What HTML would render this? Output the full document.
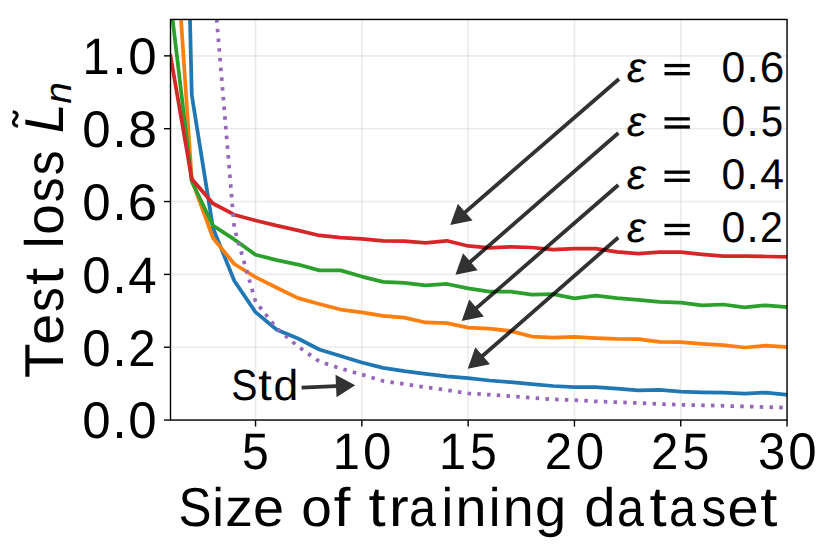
<!DOCTYPE html>
<html><head><meta charset="utf-8"><title>Test loss vs size of training dataset</title>
<style>html,body{margin:0;padding:0;background:#fff;}svg{display:block;}</style>
</head><body><svg width="831" height="550" viewBox="0 0 831 550"><defs><clipPath id="ax"><rect x="170.50" y="19.45" width="616.55" height="400.60"/></clipPath></defs><rect width="831" height="550" fill="#fff"/><g clip-path="url(#ax)" stroke="#b0b0b0" stroke-opacity="0.25" stroke-width="1.6"><line x1="255.54" y1="19.45" x2="255.54" y2="420.05"/><line x1="361.84" y1="19.45" x2="361.84" y2="420.05"/><line x1="468.14" y1="19.45" x2="468.14" y2="420.05"/><line x1="574.45" y1="19.45" x2="574.45" y2="420.05"/><line x1="680.75" y1="19.45" x2="680.75" y2="420.05"/><line x1="787.05" y1="19.45" x2="787.05" y2="420.05"/><line x1="170.50" y1="420.05" x2="787.05" y2="420.05"/><line x1="170.50" y1="347.21" x2="787.05" y2="347.21"/><line x1="170.50" y1="274.38" x2="787.05" y2="274.38"/><line x1="170.50" y1="201.54" x2="787.05" y2="201.54"/><line x1="170.50" y1="128.70" x2="787.05" y2="128.70"/><line x1="170.50" y1="55.87" x2="787.05" y2="55.87"/></g><g clip-path="url(#ax)" fill="none" stroke-width="3.75" stroke-linejoin="round" stroke-linecap="square"><polyline points="170.50,-810.88 191.76,94.98 213.02,228.13 234.28,280.75 255.54,312.18 276.80,329.77 298.06,338.51 319.32,349.51 340.58,355.99 361.84,362.51 383.10,367.90 404.36,371.21 425.62,373.91 446.88,376.31 468.14,378.21 489.41,380.50 510.67,382.21 531.93,384.21 553.19,386.00 574.45,387.20 595.71,387.20 616.97,388.58 638.23,390.30 659.49,389.90 680.75,391.61 702.01,392.30 723.27,392.59 744.53,393.68 765.79,392.59 787.05,394.81" stroke="#1f77b4"/><polyline points="170.50,-137.15 191.76,179.69 213.02,238.00 234.28,264.00 255.54,277.07 276.80,287.78 298.06,298.09 319.32,303.95 340.58,309.52 361.84,312.36 383.10,315.89 404.36,317.61 425.62,322.49 446.88,323.10 468.14,327.58 489.41,328.71 510.67,331.08 531.93,336.51 553.19,337.60 574.45,336.83 595.71,338.07 616.97,338.91 638.23,339.20 659.49,341.79 680.75,342.15 702.01,343.83 723.27,345.10 744.53,347.50 765.79,345.68 787.05,347.10" stroke="#ff7f0e"/><polyline points="170.50,1.61 191.76,181.51 213.02,225.58 234.28,239.42 255.54,254.78 276.80,260.17 298.06,264.54 319.32,270.37 340.58,270.37 361.84,276.56 383.10,281.81 404.36,282.79 425.62,285.48 446.88,283.99 468.14,288.43 489.41,291.60 510.67,291.60 531.93,294.52 553.19,294.12 574.45,298.45 595.71,295.68 616.97,298.09 638.23,299.80 659.49,301.98 680.75,302.56 702.01,305.30 723.27,304.50 744.53,307.41 765.79,305.30 787.05,307.12" stroke="#2ca02c"/><polyline points="170.50,55.87 191.76,178.96 213.02,203.51 234.28,214.69 255.54,220.48 276.80,225.69 298.06,230.38 319.32,235.48 340.58,237.59 361.84,238.87 383.10,240.80 404.36,241.09 425.62,242.80 446.88,240.80 468.14,245.97 489.41,247.79 510.67,246.81 531.93,247.50 553.19,249.69 574.45,248.59 595.71,248.59 616.97,251.80 638.23,253.62 659.49,252.09 680.75,252.24 702.01,254.38 723.27,256.20 744.53,256.20 765.79,256.50 787.05,256.90" stroke="#d62728"/><polyline points="213.02,-24.25 234.28,228.02 255.54,301.51 276.80,328.49 298.06,346.52 319.32,361.49 340.58,368.48 361.84,374.56 383.10,380.97 404.36,384.07 425.62,387.27 446.88,390.08 468.14,393.39 489.41,394.67 510.67,396.16 531.93,397.87 553.19,399.36 574.45,400.13 595.71,401.37 616.97,402.17 638.23,402.97 659.49,404.06 680.75,404.79 702.01,405.26 723.27,405.77 744.53,406.47 765.79,407.09 787.05,407.67" stroke="#9467bd" stroke-dasharray="3.50 6.25" stroke-dashoffset="5.27" stroke-linecap="butt"/></g><rect x="170.50" y="19.45" width="616.55" height="400.60" fill="none" stroke="#000" stroke-width="1.4" stroke-linejoin="miter"/><g stroke="#000" stroke-width="1.4"><line x1="255.54" y1="420.05" x2="255.54" y2="426.55"/><line x1="361.84" y1="420.05" x2="361.84" y2="426.55"/><line x1="468.14" y1="420.05" x2="468.14" y2="426.55"/><line x1="574.45" y1="420.05" x2="574.45" y2="426.55"/><line x1="680.75" y1="420.05" x2="680.75" y2="426.55"/><line x1="787.05" y1="420.05" x2="787.05" y2="426.55"/><line x1="170.50" y1="420.05" x2="164.00" y2="420.05"/><line x1="170.50" y1="347.21" x2="164.00" y2="347.21"/><line x1="170.50" y1="274.38" x2="164.00" y2="274.38"/><line x1="170.50" y1="201.54" x2="164.00" y2="201.54"/><line x1="170.50" y1="128.70" x2="164.00" y2="128.70"/><line x1="170.50" y1="55.87" x2="164.00" y2="55.87"/></g><g font-family="Liberation Sans" fill="#000" text-rendering="geometricPrecision"><text y="438.40"><tspan x="82.20" font-size="51.45" textLength="28.38" lengthAdjust="spacingAndGlyphs">0</tspan><tspan x="112.19" font-size="56.14" textLength="14.55" lengthAdjust="spacingAndGlyphs">.</tspan><tspan x="128.37" font-size="51.45" textLength="28.38" lengthAdjust="spacingAndGlyphs">0</tspan></text><text y="365.56"><tspan x="82.20" font-size="51.45" textLength="28.38" lengthAdjust="spacingAndGlyphs">0</tspan><tspan x="112.19" font-size="56.14" textLength="14.55" lengthAdjust="spacingAndGlyphs">.</tspan><tspan x="128.25" font-size="51.45" textLength="27.35" lengthAdjust="spacingAndGlyphs">2</tspan></text><text y="292.73"><tspan x="82.20" font-size="51.45" textLength="28.38" lengthAdjust="spacingAndGlyphs">0</tspan><tspan x="112.19" font-size="56.14" textLength="14.55" lengthAdjust="spacingAndGlyphs">.</tspan><tspan x="128.37" font-size="51.29" textLength="28.38" lengthAdjust="spacingAndGlyphs">4</tspan></text><text y="219.89"><tspan x="82.20" font-size="51.45" textLength="28.38" lengthAdjust="spacingAndGlyphs">0</tspan><tspan x="112.19" font-size="56.14" textLength="14.55" lengthAdjust="spacingAndGlyphs">.</tspan><tspan x="127.87" font-size="51.45" textLength="29.37" lengthAdjust="spacingAndGlyphs">6</tspan></text><text y="147.05"><tspan x="82.20" font-size="51.45" textLength="28.38" lengthAdjust="spacingAndGlyphs">0</tspan><tspan x="112.19" font-size="56.14" textLength="14.55" lengthAdjust="spacingAndGlyphs">.</tspan><tspan x="128.22" font-size="51.45" textLength="28.68" lengthAdjust="spacingAndGlyphs">8</tspan></text><text y="74.22"><tspan x="82.60" font-size="51.29" textLength="27.10" lengthAdjust="spacingAndGlyphs">1</tspan><tspan x="112.19" font-size="56.14" textLength="14.55" lengthAdjust="spacingAndGlyphs">.</tspan><tspan x="128.37" font-size="51.45" textLength="28.38" lengthAdjust="spacingAndGlyphs">0</tspan></text><text y="469.40"><tspan x="241.95" font-size="51.29" textLength="26.78" lengthAdjust="spacingAndGlyphs">5</tspan></text><text y="469.40"><tspan x="332.66" font-size="51.29" textLength="27.10" lengthAdjust="spacingAndGlyphs">1</tspan><tspan x="363.04" font-size="51.45" textLength="28.38" lengthAdjust="spacingAndGlyphs">0</tspan></text><text y="469.40"><tspan x="438.96" font-size="51.29" textLength="27.10" lengthAdjust="spacingAndGlyphs">1</tspan><tspan x="469.95" font-size="51.29" textLength="26.78" lengthAdjust="spacingAndGlyphs">5</tspan></text><text y="469.40"><tspan x="544.72" font-size="51.45" textLength="27.35" lengthAdjust="spacingAndGlyphs">2</tspan><tspan x="575.64" font-size="51.45" textLength="28.38" lengthAdjust="spacingAndGlyphs">0</tspan></text><text y="469.40"><tspan x="651.03" font-size="51.45" textLength="27.35" lengthAdjust="spacingAndGlyphs">2</tspan><tspan x="682.55" font-size="51.29" textLength="26.78" lengthAdjust="spacingAndGlyphs">5</tspan></text><text y="469.40"><tspan x="758.08" font-size="51.45" textLength="27.25" lengthAdjust="spacingAndGlyphs">3</tspan><tspan x="788.25" font-size="51.45" textLength="28.38" lengthAdjust="spacingAndGlyphs">0</tspan></text><text y="525.80"><tspan x="178.38" font-size="54.95" textLength="32.99" lengthAdjust="spacingAndGlyphs">S</tspan><tspan x="212.35" font-size="54.21" textLength="11.74" lengthAdjust="spacingAndGlyphs">i</tspan><tspan x="225.35" font-size="53.52" textLength="27.70" lengthAdjust="spacingAndGlyphs">z</tspan><tspan x="252.99" font-size="53.81" textLength="31.06" lengthAdjust="spacingAndGlyphs">e</tspan> <tspan x="301.30" font-size="53.81" textLength="30.57" lengthAdjust="spacingAndGlyphs">o</tspan><tspan x="333.81" font-size="54.28" textLength="16.59" lengthAdjust="spacingAndGlyphs">f</tspan> <tspan x="368.41" font-size="56.15" textLength="17.16" lengthAdjust="spacingAndGlyphs">t</tspan><tspan x="388.93" font-size="53.81" textLength="19.71" lengthAdjust="spacingAndGlyphs">r</tspan><tspan x="409.09" font-size="53.81" textLength="26.93" lengthAdjust="spacingAndGlyphs">a</tspan><tspan x="441.56" font-size="54.21" textLength="11.74" lengthAdjust="spacingAndGlyphs">i</tspan><tspan x="455.58" font-size="53.81" textLength="31.00" lengthAdjust="spacingAndGlyphs">n</tspan><tspan x="488.69" font-size="54.21" textLength="11.74" lengthAdjust="spacingAndGlyphs">i</tspan><tspan x="502.71" font-size="53.81" textLength="31.00" lengthAdjust="spacingAndGlyphs">n</tspan><tspan x="534.98" font-size="53.96" textLength="31.25" lengthAdjust="spacingAndGlyphs">g</tspan> <tspan x="584.23" font-size="54.21" textLength="31.25" lengthAdjust="spacingAndGlyphs">d</tspan><tspan x="617.11" font-size="53.81" textLength="26.93" lengthAdjust="spacingAndGlyphs">a</tspan><tspan x="649.63" font-size="56.15" textLength="17.16" lengthAdjust="spacingAndGlyphs">t</tspan><tspan x="669.06" font-size="53.81" textLength="26.93" lengthAdjust="spacingAndGlyphs">a</tspan><tspan x="701.61" font-size="53.96" textLength="24.78" lengthAdjust="spacingAndGlyphs">s</tspan><tspan x="727.61" font-size="53.81" textLength="31.06" lengthAdjust="spacingAndGlyphs">e</tspan><tspan x="760.32" font-size="56.15" textLength="17.16" lengthAdjust="spacingAndGlyphs">t</tspan></text><g transform="translate(62.60 376.70) rotate(-90)"><text y="0.00"><tspan x="-1.42" font-size="54.78" textLength="34.44" lengthAdjust="spacingAndGlyphs">T</tspan><tspan x="32.06" font-size="53.81" textLength="31.06" lengthAdjust="spacingAndGlyphs">e</tspan><tspan x="64.81" font-size="53.96" textLength="24.78" lengthAdjust="spacingAndGlyphs">s</tspan><tspan x="91.71" font-size="56.15" textLength="17.16" lengthAdjust="spacingAndGlyphs">t</tspan> <tspan x="128.34" font-size="54.21" textLength="11.74" lengthAdjust="spacingAndGlyphs">l</tspan><tspan x="141.94" font-size="53.81" textLength="30.57" lengthAdjust="spacingAndGlyphs">o</tspan><tspan x="174.45" font-size="53.96" textLength="24.78" lengthAdjust="spacingAndGlyphs">s</tspan><tspan x="201.38" font-size="53.96" textLength="24.78" lengthAdjust="spacingAndGlyphs">s</tspan></text><text y="0.00" font-style="italic"><tspan x="243.55" font-size="54.78" textLength="29.68" lengthAdjust="spacingAndGlyphs">L</tspan></text><text y="8.80" font-style="italic"><tspan x="272.93" font-size="37.71" textLength="21.62" lengthAdjust="spacingAndGlyphs">n</tspan></text><path d="M250.5,-44.6 C251.4,-49.6 254.6,-50.4 257.7,-47.4 C260.8,-44.4 264.2,-44.6 265.0,-49.9" fill="none" stroke="#000" stroke-width="3.0"/></g><text y="82.30" font-style="italic"><tspan x="626.74" font-size="42.23" textLength="19.14" lengthAdjust="spacingAndGlyphs">ε</tspan></text><rect x="664.49" y="63.91" width="25.35" height="3.32"/><rect x="664.49" y="71.98" width="25.35" height="3.36"/><text y="82.30"><tspan x="721.50" font-size="43.05" textLength="23.74" lengthAdjust="spacingAndGlyphs">0</tspan><tspan x="746.60" font-size="46.97" textLength="12.18" lengthAdjust="spacingAndGlyphs">.</tspan><tspan x="759.73" font-size="43.05" textLength="24.57" lengthAdjust="spacingAndGlyphs">6</tspan></text><text y="135.60" font-style="italic"><tspan x="626.74" font-size="42.23" textLength="19.14" lengthAdjust="spacingAndGlyphs">ε</tspan></text><rect x="664.49" y="117.21" width="25.35" height="3.32"/><rect x="664.49" y="125.28" width="25.35" height="3.36"/><text y="135.60"><tspan x="721.50" font-size="43.05" textLength="23.74" lengthAdjust="spacingAndGlyphs">0</tspan><tspan x="746.60" font-size="46.97" textLength="12.18" lengthAdjust="spacingAndGlyphs">.</tspan><tspan x="760.65" font-size="42.91" textLength="22.41" lengthAdjust="spacingAndGlyphs">5</tspan></text><text y="188.90" font-style="italic"><tspan x="626.74" font-size="42.23" textLength="19.14" lengthAdjust="spacingAndGlyphs">ε</tspan></text><rect x="664.49" y="170.51" width="25.35" height="3.32"/><rect x="664.49" y="178.58" width="25.35" height="3.36"/><text y="188.90"><tspan x="721.50" font-size="43.05" textLength="23.74" lengthAdjust="spacingAndGlyphs">0</tspan><tspan x="746.60" font-size="46.97" textLength="12.18" lengthAdjust="spacingAndGlyphs">.</tspan><tspan x="760.14" font-size="42.91" textLength="23.75" lengthAdjust="spacingAndGlyphs">4</tspan></text><text y="242.20" font-style="italic"><tspan x="626.74" font-size="42.23" textLength="19.14" lengthAdjust="spacingAndGlyphs">ε</tspan></text><rect x="664.49" y="223.81" width="25.35" height="3.32"/><rect x="664.49" y="231.88" width="25.35" height="3.36"/><text y="242.20"><tspan x="721.50" font-size="43.05" textLength="23.74" lengthAdjust="spacingAndGlyphs">0</tspan><tspan x="746.60" font-size="46.97" textLength="12.18" lengthAdjust="spacingAndGlyphs">.</tspan><tspan x="760.04" font-size="43.05" textLength="22.89" lengthAdjust="spacingAndGlyphs">2</tspan></text><text y="399.90"><tspan x="231.25" font-size="43.58" textLength="26.16" lengthAdjust="spacingAndGlyphs">S</tspan><tspan x="258.22" font-size="44.53" textLength="13.61" lengthAdjust="spacingAndGlyphs">t</tspan><tspan x="273.59" font-size="42.99" textLength="24.78" lengthAdjust="spacingAndGlyphs">d</tspan></text></g><g fill="#000" opacity="0.8"><polygon points="617.76,77.56 463.97,210.70 457.89,203.67 450.25,225.09 472.55,220.60 466.46,213.57 620.24,80.44"/><polygon points="617.15,131.57 469.14,260.27 463.04,253.25 455.45,274.69 477.74,270.15 471.64,263.14 619.65,134.43"/><polygon points="617.05,183.56 475.36,306.48 469.26,299.46 461.65,320.89 483.94,316.38 477.85,309.35 619.55,186.44"/><polygon points="617.05,236.07 481.42,354.35 475.31,347.34 467.75,368.79 490.03,364.22 483.92,357.21 619.55,238.93"/><polygon points="301.69,389.50 336.10,387.94 336.53,397.23 355.20,385.17 335.51,374.85 335.93,384.14 301.51,385.70"/></g></svg></body></html>
